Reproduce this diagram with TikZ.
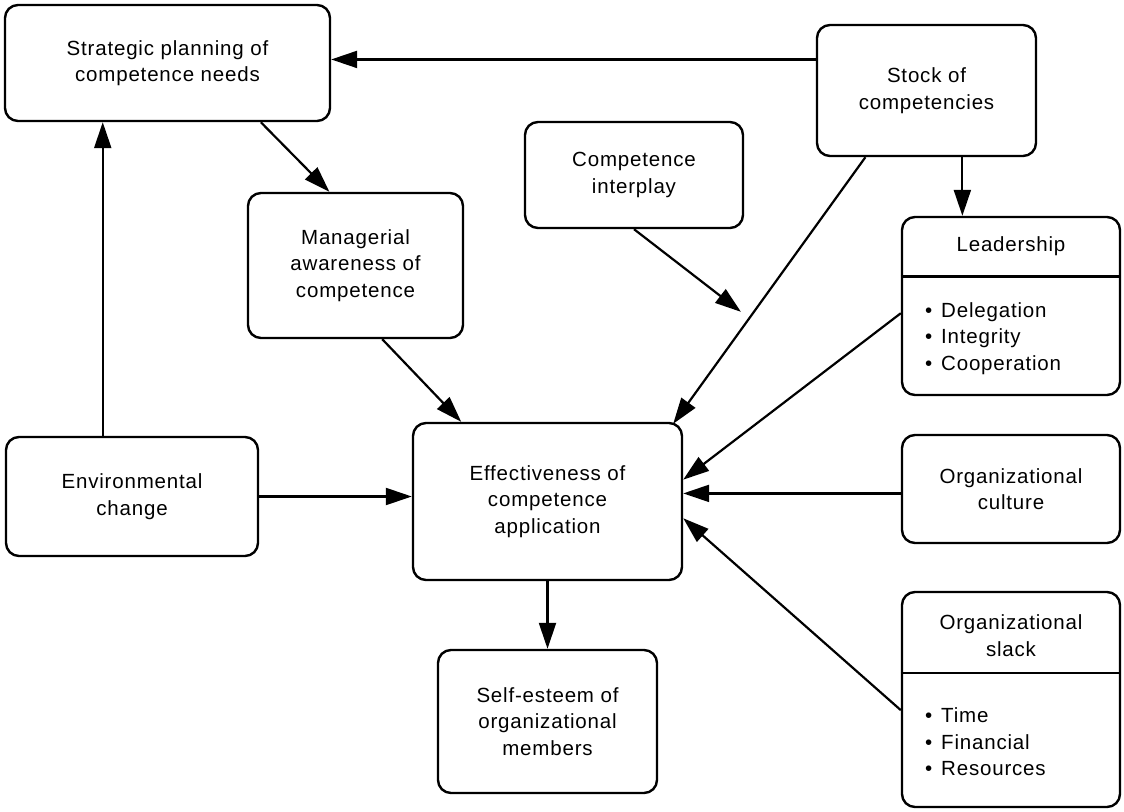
\documentclass[tikz,border=0pt]{standalone}
\usepackage{fontspec}
\setmainfont{Liberation Sans}[LetterSpace=4]
\usetikzlibrary{arrows.meta,calc}
\newcommand\boxfont{\fontsize{20.5}{26.5}\selectfont}
\newcommand\itembullet{\textbullet\hspace{9pt}}
\begin{document}
\begin{tikzpicture}[x=1pt,y=-1pt,
  box/.style={draw, line width=2.4pt, rounded corners=13pt, inner sep=0pt,
              align=center, font=\boxfont},
  label/.style={inner sep=0pt, align=center, font=\boxfont},
  items/.style={inner sep=0pt, align=left, font=\boxfont, anchor=west},
  arr/.style={line width=2.2pt, -{Triangle[length=26pt,width=17pt]}},
  divider/.style={line width=2.4pt}]
\path[use as bounding box, fill=white] (0,0) rectangle (1124,811);

% boxes
\node[box, minimum width=325pt, minimum height=116pt] (strat) at (167.5,63)
  {Strategic planning of\\competence needs};
\node[box, minimum width=219pt, minimum height=131pt] (stock) at (926.5,90.5)
  {Stock of\\competencies};
\node[box, minimum width=218pt, minimum height=106pt] (inter) at (634,175)
  {Competence\\interplay};
\node[box, minimum width=215pt, minimum height=145pt] (manag) at (355.5,265.5)
  {Managerial\\awareness of\\competence};
\node[box, minimum width=269pt, minimum height=157pt] (eff) at (547.5,501.5)
  {Effectiveness of\\competence\\application};
\node[box, minimum width=252pt, minimum height=119pt] (env) at (132,496.5)
  {Environmental\\change};
\node[box, minimum width=218pt, minimum height=108pt] (cult) at (1011,489)
  {Organizational\\culture};
\node[box, minimum width=219pt, minimum height=143pt] (self) at (547.5,721.5)
  {Self-esteem of\\organizational\\members};

% leadership box with header and list
\node[box, minimum width=218pt, minimum height=178pt] (lead) at (1011,306) {};
\coordinate (leadDivL) at ($(lead.north west)!0.337!(lead.south west)$);
\coordinate (leadDivR) at ($(lead.north east)!0.337!(lead.south east)$);
\draw[divider] (leadDivL) -- (leadDivR);
\node[label] (leadT) at ($(lead.north)!0.5!(lead.north |- leadDivL)$) {Leadership};
\node[items] (leadL) at ($(leadDivL)+(24,62)$)
  {\itembullet Delegation\\\itembullet Integrity\\\itembullet Cooperation};

% organizational slack box with header and list
\node[box, minimum width=218pt, minimum height=215pt] (slack) at (1011,699.5) {};
\coordinate (slackDivL) at ($(slack.north west)!0.377!(slack.south west)$);
\coordinate (slackDivR) at ($(slack.north east)!0.377!(slack.south east)$);
\draw[divider] (slackDivL) -- (slackDivR);
\node[label] (slackT) at ($(slack.north)!0.55!(slack.north |- slackDivL)$)
  {Organizational\\slack};
\node[items] (slackL) at ($(slackDivL)+(24,69)$)
  {\itembullet Time\\\itembullet Financial\\\itembullet Resources};

% connectors
\coordinate (stratIn) at ($(strat.north east)!0.47!(strat.south east)$);
\draw[arr] (stock.west |- stratIn) -- (stratIn);
\draw[arr] ($(strat.south west)!0.785!(strat.south east)$)
        -- ($(manag.north west)!0.38!(manag.north east)$);
\coordinate (envTop) at ($(env.north west)!0.385!(env.north east)$);
\draw[arr] (envTop) -- (envTop |- strat.south);
\draw[arr] ($(manag.south west)!0.623!(manag.south east)$)
        -- ($(eff.north west)!0.182!(eff.north east)$);
\coordinate (stockOut) at ($(stock.south west)!0.224!(stock.south east)$);
\coordinate (effIn) at ($(eff.north east)+(-10,2)$);
\draw[arr] (stockOut) -- (effIn);
\coordinate (mod) at ($($(stockOut)!0.58!(effIn)$)+(-13,0)$);
\draw[arr] (inter.south) -- (mod);
\coordinate (stockLead) at ($(stock.south west)!0.662!(stock.south east)$);
\draw[arr] (stockLead) -- (stockLead |- lead.north);
\draw[arr] ($(lead.north west)!0.54!(lead.south west)$)
        -- ($(eff.north east)!0.363!(eff.south east)$);
\coordinate (cultOut) at ($(cult.north west)!0.54!(cult.south west)$);
\draw[arr] (cultOut) -- (cultOut -| eff.east);
\draw[arr] ($(slack.north west)!0.549!(slack.south west)$)
        -- ($(eff.north east)!0.605!(eff.south east)$);
\draw[arr] (eff.south) -- (self.north);
\draw[arr] (env.east) -- (env.east -| eff.west);
\end{tikzpicture}
\end{document}
